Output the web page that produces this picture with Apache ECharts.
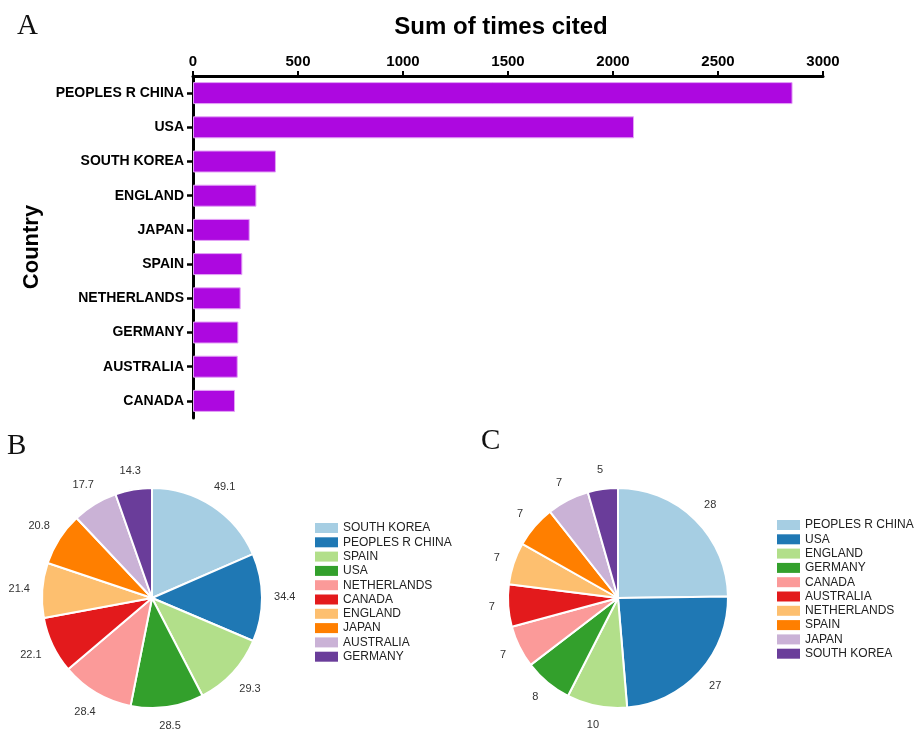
<!DOCTYPE html>
<html>
<head>
<meta charset="utf-8">
<script src="https://cdn.jsdelivr.net/npm/echarts@6/dist/echarts.min.js"></script>
<style>
  html, body { margin: 0; padding: 0; background: #ffffff; }
  #chart { width: 915px; height: 730px; }
</style>
</head>
<body>
<div id="chart"></div>
<script>
// Panel A: total citations by country
const countries = ['PEOPLES R CHINA', 'USA', 'SOUTH KOREA', 'ENGLAND', 'JAPAN', 'SPAIN', 'NETHERLANDS', 'GERMANY', 'AUSTRALIA', 'CANADA'];
const timesCited = [2855, 2100, 395, 302, 270, 235, 227, 216, 213, 200];
const citedTicks = [0, 500, 1000, 1500, 2000, 2500, 3000];

// Panel B: average citations per country
const avgCountries = ['SOUTH KOREA', 'PEOPLES R CHINA', 'SPAIN', 'USA', 'NETHERLANDS', 'CANADA', 'ENGLAND', 'JAPAN', 'AUSTRALIA', 'GERMANY'];
const avgValues = [49.1, 34.4, 29.3, 28.5, 28.4, 22.1, 21.4, 20.8, 17.7, 14.3];

// Panel C: publication counts per country
const countCountries = ['PEOPLES R CHINA', 'USA', 'ENGLAND', 'GERMANY', 'CANADA', 'AUSTRALIA', 'NETHERLANDS', 'SPAIN', 'JAPAN', 'SOUTH KOREA'];
const countValues = [28, 27, 10, 8, 7, 7, 7, 7, 7, 5];

// Paired palette, applied in slice order
const paired = ['#a6cee3', '#1f78b4', '#b2df8a', '#33a02c', '#fb9a99', '#e31a1c', '#fdbf6f', '#ff7f00', '#cab2d6', '#6a3d9a'];

const SANS = '"Liberation Sans", Arial, Helvetica, sans-serif';
const SERIF = '"Liberation Serif", "Times New Roman", serif';

function pieData(names, values) {
  return names.map((n, i) => ({ name: n, value: values[i], itemStyle: { color: paired[i] } }));
}
function legendData(names) {
  return names.map((n, i) => ({ name: n, itemStyle: { color: paired[i], borderWidth: 0 } }));
}
function pieSeries(center, names, values) {
  return {
    type: 'pie', center: center, radius: 110, startAngle: 90, clockwise: true,
    data: pieData(names, values), silent: true,
    itemStyle: { borderColor: '#ffffff', borderWidth: 2 },
    label: { show: false }, labelLine: { show: false },
    emphasis: { disabled: true }
  };
}
// transparent ring carrying the value labels; each label box is then pushed
// outward until its nearest edge sits on a circle of radius `edge`
function pieLabelRing(center, names, values, edge) {
  return {
    type: 'pie', center: center, radius: [118, 140], startAngle: 90, clockwise: true,
    data: names.map((n, i) => ({ name: n, value: values[i] })), silent: true,
    itemStyle: { color: 'rgba(0,0,0,0)', borderWidth: 0 },
    label: { show: true, position: 'inside', formatter: '{c}', fontFamily: SANS, fontSize: 11, color: '#333333' },
    labelLine: { show: false },
    labelLayout: function (p) {
      const r = p.labelRect;
      const mx = r.x + r.width / 2, my = r.y + r.height / 2;
      const dx = mx - center[0], dy = my - center[1];
      const d = Math.sqrt(dx * dx + dy * dy) || 1;
      const ux = dx / d, uy = dy / d;
      const ext = r.width / 2 * Math.abs(ux) + r.height / 2 * Math.abs(uy);
      const R = edge + ext;
      return { x: center[0] + ux * R, y: center[1] + uy * R };
    },
    emphasis: { disabled: true }
  };
}
function legendFor(left, top, names) {
  return {
    orient: 'vertical', left: left, top: top, icon: 'rect', padding: 0,
    itemWidth: 23, itemHeight: 10, itemGap: 0.3, selectedMode: false,
    itemStyle: { borderWidth: 0 },
    textStyle: { fontFamily: SANS, fontSize: 12, color: '#222222', lineHeight: 14, padding: [0, 0, 0, 0] },
    data: legendData(names)
  };
}
function panelLetter(text, x, y) {
  return {
    type: 'text', x: x, y: y,
    style: { text: text, font: '29px ' + SERIF, fill: '#111111', textAlign: 'left', textVerticalAlign: 'middle' }
  };
}

const chart = echarts.init(document.getElementById('chart'));
chart.setOption({
  animation: false,
  backgroundColor: '#ffffff',
  graphic: [
    panelLetter('A', 17, 26),
    panelLetter('B', 7, 446),
    panelLetter('C', 481, 441),
    {
      type: 'text', x: 501, y: 27,
      style: { text: 'Sum of times cited', font: 'bold 24px ' + SANS, fill: '#000000', textAlign: 'center', textVerticalAlign: 'middle' }
    }
  ],
  grid: { left: 193, right: 92, top: 76, bottom: 312, containLabel: false },
  xAxis: {
    type: 'value', position: 'top',
    min: citedTicks[0], max: citedTicks[citedTicks.length - 1], interval: citedTicks[1] - citedTicks[0],
    axisLine: { show: true, lineStyle: { color: '#000000', width: 3 } },
    axisTick: { show: true, inside: false, length: 5, lineStyle: { color: '#000000', width: 2 } },
    axisLabel: { margin: 7, fontFamily: SANS, fontSize: 15, fontWeight: 'bold', color: '#000000', formatter: v => String(v) },
    splitLine: { show: false }
  },
  yAxis: {
    type: 'category', inverse: true, data: countries,
    name: 'Country', nameLocation: 'middle', nameRotate: 90, nameGap: 150,
    nameTextStyle: { fontFamily: SANS, fontSize: 22, fontWeight: 'bold', color: '#000000' },
    axisLine: { show: true, lineStyle: { color: '#000000', width: 3 } },
    axisTick: { show: true, alignWithLabel: true, length: 6, lineStyle: { color: '#000000', width: 2.5 } },
    axisLabel: { margin: 9, fontFamily: SANS, fontSize: 14, fontWeight: 'bold', color: '#000000' },
    splitLine: { show: false }
  },
  legend: [
    legendFor(315, 521, avgCountries),
    legendFor(777, 518, countCountries)
  ],
  series: [
    {
      type: 'bar', data: timesCited, barWidth: 22, silent: true,
      itemStyle: { color: '#ad08e0', borderColor: '#e3a3f5', borderWidth: 1 }
    },
    pieSeries([152, 598], avgCountries, avgValues),
    pieSeries([618, 598], countCountries, countValues),
    pieLabelRing([152, 598], avgCountries, avgValues, 122),
    pieLabelRing([618, 598], countCountries, countValues, 123)
  ]
});
</script>
</body>
</html>
